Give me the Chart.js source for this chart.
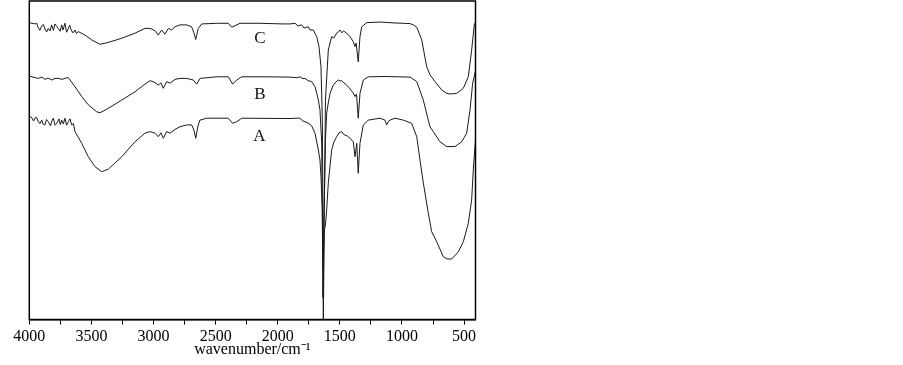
<!DOCTYPE html>
<html>
<head>
<meta charset="utf-8">
<script src="https://cdn.jsdelivr.net/npm/chart.js@4.4.1/dist/chart.umd.min.js"></script>
<style>
html,body{margin:0;padding:0;background:#fff;}
#wrap{width:903px;height:365px;}
</style>
</head>
<body>
<div id="wrap"><canvas id="c" width="903" height="365"></canvas></div>
<script>
// ---- data (wavenumber in cm^-1, transmittance in arbitrary offset units) ----
const cWavenumber = [4000,3954,3940,3930,3915,3900,3886,3874,3860,3847,3833,3820,3806,3793,3780,3767,3752,3739,3729,3713,3700,3686,3675,3664,3648,3632,3620,3606,3552,3498,3431,3364,3256,3149,3069,3028,2988,2962,2934,2908,2881,2854,2827,2787,2733,2693,2675,2660,2640,2612,2491,2398,2371,2344,2304,2143,1958,1901,1861,1837,1807,1789,1754,1740,1714,1686,1668,1652,1641,1633,1624,1616,1593,1566,1548,1526,1512,1499,1483,1471,1445,1418,1392,1378,1369,1352,1338,1324,1284,1177,1056,989,935,909,881,841,801,774,734,680,640,613,559,506,466,439,418,408];
const cTrans = [93.2,92.8,93.0,91.8,90.8,92.2,92.6,91.2,90.3,91.4,90.6,92.5,90.8,92.8,92.0,91.4,90.5,92.5,90.9,93.0,90.2,91.4,92.4,91.0,90.0,90.9,89.8,90.4,89.3,87.8,86.4,87.0,88.3,89.9,91.4,91.4,90.7,89.3,90.9,89.6,91.4,90.9,91.9,92.5,92.5,91.9,90.0,87.9,91.4,92.8,93.0,93.0,91.8,92.2,93.0,93.0,92.8,92.8,93.0,92.2,92.5,91.5,91.9,90.9,90.9,88.8,85.7,79.4,62.6,18.7,37.5,68.9,84.6,88.8,88.4,89.9,90.3,90.9,90.0,90.6,89.9,88.8,87.2,85.7,86.8,80.9,88.8,91.9,93.2,93.4,93.1,93.0,92.9,92.5,91.8,87.8,79.4,76.8,74.7,72.1,71.0,70.8,71.0,72.6,76.2,84.6,92.5,93.4];

const bWavenumber = [4000,3970,3928,3898,3874,3849,3820,3793,3767,3737,3713,3688,3672,3632,3578,3525,3457,3431,3364,3256,3149,3069,3028,2988,2962,2940,2921,2894,2867,2827,2787,2733,2680,2652,2626,2491,2398,2363,2330,2290,2089,1901,1847,1821,1797,1781,1756,1727,1700,1686,1673,1660,1646,1636,1625,1616,1606,1593,1579,1553,1531,1512,1499,1485,1467,1445,1418,1392,1378,1366,1352,1338,1311,1271,1137,935,881,828,788,774,748,694,640,573,519,479,452,431,408];
const bTrans = [76.5,76.1,75.7,76.1,75.4,75.8,75.2,75.7,75.7,75.4,75.7,76.0,75.2,73.1,70.0,67.4,65.2,64.9,66.3,68.9,71.5,73.9,75.0,74.4,73.6,74.3,72.6,74.7,74.2,75.4,75.7,75.7,75.2,73.9,75.7,76.2,76.2,73.9,75.2,76.2,76.2,76.1,75.9,76.2,75.6,75.7,75.0,74.7,73.1,71.0,68.9,65.8,55.4,6.8,37.5,56.4,64.8,68.0,71.0,73.6,74.6,75.2,74.9,75.0,74.3,73.6,72.4,71.1,70.0,70.8,63.2,71.0,75.2,76.2,76.3,76.1,74.7,68.9,62.6,60.5,59.0,55.8,54.3,54.3,55.8,58.5,65.8,74.2,78.0];

const aWavenumber = [4000,3978,3966,3954,3942,3930,3915,3900,3890,3874,3862,3847,3829,3818,3807,3792,3779,3761,3750,3739,3726,3713,3700,3686,3672,3659,3645,3632,3578,3525,3471,3417,3364,3256,3149,3069,3028,2988,2962,2940,2921,2894,2867,2827,2787,2733,2693,2675,2660,2642,2626,2572,2398,2363,2330,2290,1901,1847,1821,1797,1781,1756,1727,1700,1673,1660,1652,1641,1633,1625,1616,1606,1593,1566,1548,1526,1507,1485,1471,1459,1439,1418,1392,1378,1364,1352,1338,1311,1271,1177,1137,1123,1108,1096,1056,989,922,881,855,828,788,761,720,667,637,600,547,506,466,439,426,408];
const aTrans = [63.9,63.3,62.3,63.2,63.5,62.3,61.5,62.6,61.4,61.1,62.8,62.1,60.8,62.4,63.2,61.0,61.6,63.0,61.2,62.6,61.4,63.2,61.0,62.1,63.0,61.1,61.5,59.0,55.3,51.1,48.0,46.4,47.2,51.1,55.8,58.5,59.0,58.5,57.4,58.6,56.9,59.0,58.5,59.7,60.5,61.1,61.1,59.5,56.9,60.8,62.6,63.2,63.2,61.6,62.1,63.2,63.1,63.2,63.2,62.3,62.1,61.7,60.8,58.5,53.2,50.1,44.8,34.4,0,28.1,29.7,34.4,42.9,53.2,55.7,57.4,58.6,59.0,58.2,57.9,57.6,56.9,55.8,51.1,55.3,45.9,55.3,61.1,62.6,63.2,62.6,61.1,62.3,62.6,63.2,62.6,61.6,57.4,50.1,42.9,33.4,27.6,24.4,19.7,19.0,19.0,21.2,24.4,30.2,37.5,46.9,56.4];

const seriesNames = ['A', 'B', 'C'];
const xTickValues = [500,750,1000,1250,1500,1750,2000,2250,2500,2750,3000,3250,3500,3750,4000];
const xLabelled = [500,1000,1500,2000,2500,3000,3500,4000];
const xTitle = 'wavenumber/cm\u207B\u00B9';

// ---- chart ----
const SERIF = "'Liberation Serif','Times New Roman',serif";
function pts(xs, ys) { return xs.map((x, i) => ({x: x, y: ys[i]})); }

// label anchors for curve names (in data units)
const nameAnchors = {
  C: {x: 2143, y: 88.3},
  B: {x: 2143, y: 70.7},
  A: {x: 2148, y: 57.4}
};

const framePlugin = {
  id: 'frame',
  afterDraw(chart) {
    const {ctx, chartArea: a} = chart;
    ctx.save();
    ctx.strokeStyle = '#000';
    ctx.lineWidth = 1.5;
    ctx.strokeRect(a.left, a.top, a.right - a.left, a.bottom - a.top);
    ctx.restore();
  }
};

const namePlugin = {
  id: 'names',
  afterDatasetsDraw(chart) {
    const {ctx, scales} = chart;
    ctx.save();
    ctx.fillStyle = '#111';
    ctx.font = "17px " + SERIF;
    ctx.textAlign = 'center';
    ctx.textBaseline = 'middle';
    seriesNames.forEach(n => {
      const p = nameAnchors[n];
      ctx.fillText(n, scales.x.getPixelForValue(p.x), scales.y.getPixelForValue(p.y));
    });
    ctx.restore();
  }
};

const lineStyle = {borderColor: '#1a1a1a', borderWidth: 1, pointRadius: 0, tension: 0, fill: false};

new Chart(document.getElementById('c'), {
  type: 'line',
  data: {
    datasets: [
      Object.assign({label: 'A', data: pts(aWavenumber, aTrans)}, lineStyle),
      Object.assign({label: 'B', data: pts(bWavenumber, bTrans)}, lineStyle),
      Object.assign({label: 'C', data: pts(cWavenumber, cTrans)}, lineStyle)
    ]
  },
  options: {
    responsive: false,
    animation: false,
    events: [],
    layout: {padding: {left: 29.3, right: 427.5, top: 1, bottom: 0}},
    plugins: {legend: {display: false}, tooltip: {enabled: false}},
    scales: {
      x: {
        type: 'linear',
        reverse: true,
        min: 408,
        max: 4000,
        afterBuildTicks(scale) { scale.ticks = xTickValues.map(v => ({value: v})); },
        afterFit(scale) { scale.height = 45.5; },
        grid: {display: true, drawOnChartArea: false, drawTicks: true, tickLength: 5, color: '#000', lineWidth: 1},
        border: {display: true, color: '#000', width: 1.5},
        ticks: {
          color: '#000',
          padding: 3,
          maxRotation: 0,
          autoSkip: false,
          font: {family: SERIF, size: 16},
          callback: (v) => xLabelled.includes(v) ? String(v) : ''
        },
        title: {display: true, text: xTitle, color: '#000', font: {family: SERIF, size: 16}, padding: {top: 0, bottom: 6}}
      },
      y: {
        type: 'linear',
        min: 0,
        max: 100,
        display: false
      }
    }
  },
  plugins: [framePlugin, namePlugin]
});
</script>
</body>
</html>
